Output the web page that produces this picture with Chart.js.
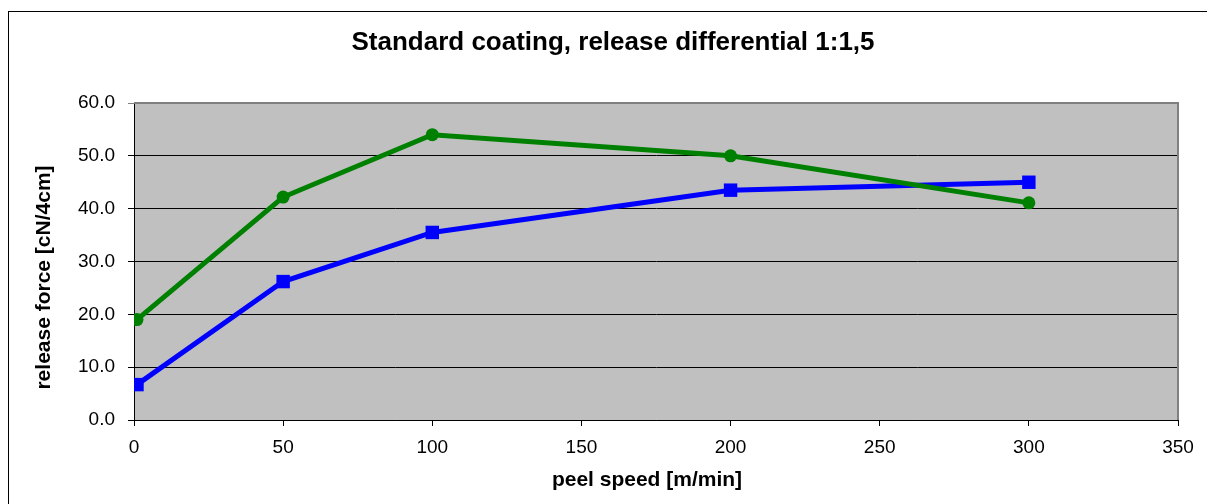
<!DOCTYPE html>
<html>
<head>
<meta charset="utf-8">
<script src="https://cdn.jsdelivr.net/npm/chart.js@4.4.1/dist/chart.umd.min.js"></script>
<style>
  html, body { margin: 0; padding: 0; background: #ffffff; }
  #wrap { width: 1207px; height: 504px; position: relative; }
</style>
</head>
<body>
<div id="wrap"><canvas id="c" width="1207" height="504"></canvas></div>
<script>
const chartTitle = 'Standard coating, release differential 1:1,5';
const xAxisTitle = 'peel speed [m/min]';
const yAxisTitle = 'release force [cN/4cm]';
const peelSpeeds = [1, 50, 100, 200, 300];
const greenValues = [19.0, 42.2, 54.0, 50.0, 41.1];
const blueValues = [6.7, 26.2, 35.5, 43.5, 45.0];
const xMin = 0, xMax = 350, xStep = 50;
const yMin = 0, yMax = 60, yStep = 10;

const FONT = "'Liberation Sans', Arial, Helvetica, sans-serif";

function shiftTitle(scale, dx, dy) {
  if (!scale || scale._titleShifted) return;
  const orig = scale.drawTitle;
  scale.drawTitle = function () {
    this.ctx.save();
    this.ctx.translate(dx, dy);
    orig.apply(this, arguments);
    this.ctx.restore();
  };
  scale._titleShifted = true;
}

const bgPlugin = {
  id: 'bgPlugin',
  afterLayout(chart) {
    const t = chart.titleBlock;
    if (t) { t.left = 19; t.right = 1207; }
    shiftTitle(chart.scales.y, 0, 16);
    shiftTitle(chart.scales.x, -9, 0);
  },
  beforeDraw(chart) {
    const ctx = chart.ctx;
    const a = chart.chartArea;
    ctx.save();
    ctx.fillStyle = '#ffffff';
    ctx.fillRect(0, 0, chart.width, chart.height);
    ctx.strokeStyle = '#000000';
    ctx.lineWidth = 1;
    ctx.strokeRect(8.5, 11.5, chart.width + 20, chart.height + 20);
    ctx.fillStyle = '#c0c0c0';
    ctx.fillRect(a.left, a.top, a.right - a.left, a.bottom - a.top);
    ctx.restore();
  },
  beforeDatasetsDraw(chart) {
    const ctx = chart.ctx;
    const a = chart.chartArea;
    ctx.save();
    ctx.strokeStyle = '#808080';
    ctx.lineWidth = 2;
    ctx.beginPath();
    ctx.moveTo(a.left, a.top);
    ctx.lineTo(a.right, a.top);
    ctx.lineTo(a.right, a.bottom);
    ctx.stroke();
    ctx.restore();
  }
};

const toXY = (xs, ys) => xs.map((x, i) => ({ x: x, y: ys[i] }));

new Chart(document.getElementById('c'), {
  type: 'line',
  data: {
    datasets: [
      {
        label: 'green',
        data: toXY(peelSpeeds, greenValues),
        borderColor: '#008000',
        backgroundColor: '#008000',
        borderWidth: 5,
        pointStyle: 'circle',
        pointRadius: 6.5,
        pointBorderWidth: 0,
        tension: 0,
        fill: false
      },
      {
        label: 'blue',
        data: toXY(peelSpeeds, blueValues),
        borderColor: '#0000ff',
        backgroundColor: '#0000ff',
        borderWidth: 5,
        pointStyle: 'rect',
        pointRadius: 9.5,
        pointBorderWidth: 0,
        tension: 0,
        fill: false
      }
    ]
  },
  options: {
    responsive: false,
    animation: false,
    devicePixelRatio: 1,
    layout: { padding: { left: 0, right: 29, top: 0, bottom: 0 } },
    plugins: {
      legend: { display: false },
      tooltip: { enabled: false },
      title: {
        display: true,
        text: chartTitle,
        color: '#000000',
        font: { family: FONT, size: 26, weight: 'bold', lineHeight: 1.2 },
        padding: { top: 27, bottom: 44.8 }
      }
    },
    scales: {
      x: {
        type: 'linear',
        min: xMin,
        max: xMax,
        afterFit(scale) { scale.height = 84; },
        ticks: {
          stepSize: xStep,
          color: '#000000',
          font: { family: FONT, size: 19 },
          padding: 10,
          maxRotation: 0,
          autoSkip: false
        },
        grid: {
          drawOnChartArea: false,
          drawTicks: true,
          tickLength: 6,
          color: '#000000',
          lineWidth: 1
        },
        border: { display: true, color: '#000000', width: 1 },
        title: {
          display: true,
          text: xAxisTitle,
          color: '#000000',
          font: { family: FONT, size: 21, weight: 'bold', lineHeight: 1.2 },
          padding: { top: 0, bottom: 10.7 }
        }
      },
      y: {
        type: 'linear',
        min: yMin,
        max: yMax,
        afterFit(scale) { scale.width = 134; },
        ticks: {
          stepSize: yStep,
          color: '#000000',
          font: { family: FONT, size: 19 },
          padding: 13,
          callback: (v) => Number(v).toFixed(1)
        },
        grid: {
          drawTicks: true,
          tickLength: 6,
          color: (c) => (c.tick && c.tick.value === yMax) ? '#808080' : '#000000',
          lineWidth: 1
        },
        border: { display: true, color: '#000000', width: 1 },
        title: {
          display: true,
          text: yAxisTitle,
          color: '#000000',
          font: { family: FONT, size: 21, weight: 'bold', lineHeight: 1.2 },
          padding: { top: 31.8, bottom: 0 }
        }
      }
    }
  },
  plugins: [bgPlugin]
});
</script>
</body>
</html>
